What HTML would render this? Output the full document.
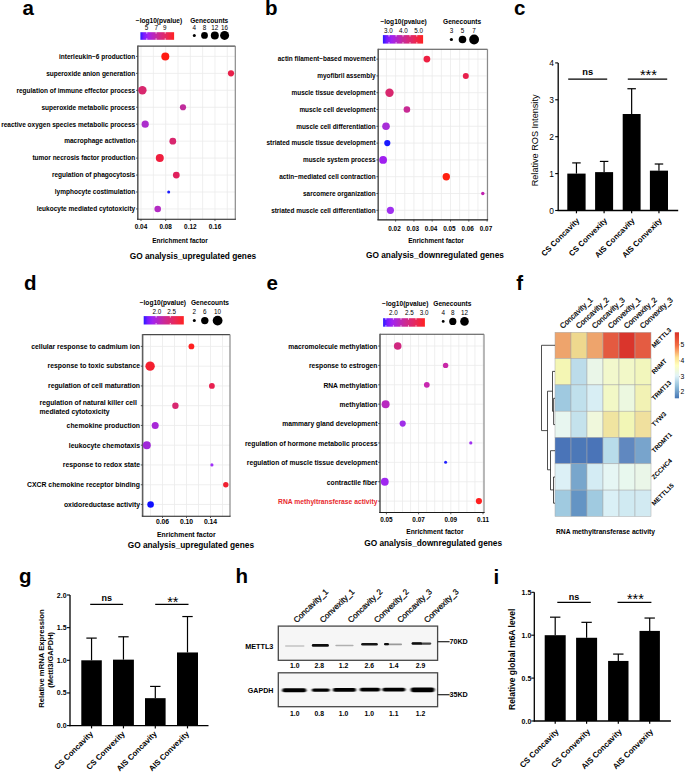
<!DOCTYPE html>
<html><head><meta charset="utf-8"><title>Figure</title>
<style>html,body{margin:0;padding:0;background:#fff;} svg{display:block;} text{font-family:'Liberation Sans',sans-serif;}</style>
</head><body>
<svg width="685" height="773" viewBox="0 0 685 773">
<rect width="685" height="773" fill="#fff"/>
<text x="22.50" y="15.00" font-size="20.5" font-weight="bold" text-anchor="start" fill="#000">a</text>
<text x="135.80" y="22.80" font-size="6.6" font-weight="bold" text-anchor="start" fill="#000">&#8722;log10(pvalue)</text>
<defs><linearGradient id="ga" x1="0" x2="1" y1="0" y2="0"><stop offset="0" stop-color="#2a1aff"/><stop offset="0.1" stop-color="#7a1cff"/><stop offset="0.22" stop-color="#a222f0"/><stop offset="0.5" stop-color="#c82a9a"/><stop offset="0.78" stop-color="#e8285a"/><stop offset="1" stop-color="#ff2222"/></linearGradient></defs>
<rect x="140.40" y="32.20" width="33.70" height="7.60" fill="url(#ga)"/>
<text x="146.40" y="29.90" font-size="6.3" text-anchor="middle" fill="#000">5</text>
<text x="156.20" y="29.90" font-size="6.3" text-anchor="middle" fill="#000">7</text>
<text x="164.80" y="29.90" font-size="6.3" text-anchor="middle" fill="#000">9</text>
<line x1="146.80" y1="32.20" x2="146.80" y2="33.60" stroke="#fff" stroke-width="0.8"/>
<line x1="146.80" y1="38.40" x2="146.80" y2="39.80" stroke="#fff" stroke-width="0.8"/>
<line x1="156.10" y1="32.20" x2="156.10" y2="33.60" stroke="#fff" stroke-width="0.8"/>
<line x1="156.10" y1="38.40" x2="156.10" y2="39.80" stroke="#fff" stroke-width="0.8"/>
<line x1="165.20" y1="32.20" x2="165.20" y2="33.60" stroke="#fff" stroke-width="0.8"/>
<line x1="165.20" y1="38.40" x2="165.20" y2="39.80" stroke="#fff" stroke-width="0.8"/>
<text x="190.20" y="22.80" font-size="6.6" font-weight="bold" text-anchor="start" fill="#000">Genecounts</text>
<text x="194.30" y="29.90" font-size="6.3" text-anchor="middle" fill="#000">4</text>
<circle cx="194.30" cy="35.40" r="1.50" fill="#000"/>
<text x="204.50" y="29.90" font-size="6.3" text-anchor="middle" fill="#000">8</text>
<circle cx="204.50" cy="35.40" r="3.40" fill="#000"/>
<text x="214.80" y="29.90" font-size="6.3" text-anchor="middle" fill="#000">12</text>
<circle cx="214.80" cy="35.40" r="4.00" fill="#000"/>
<text x="224.60" y="29.90" font-size="6.3" text-anchor="middle" fill="#000">16</text>
<circle cx="224.60" cy="35.40" r="4.50" fill="#000"/>
<rect x="137.80" y="46.10" width="97.50" height="173.10" fill="#fff"/>
<line x1="141.00" y1="46.10" x2="141.00" y2="219.20" stroke="#ebebeb" stroke-width="0.8"/>
<line x1="153.33" y1="46.10" x2="153.33" y2="219.20" stroke="#ebebeb" stroke-width="0.8"/>
<line x1="165.66" y1="46.10" x2="165.66" y2="219.20" stroke="#ebebeb" stroke-width="0.8"/>
<line x1="177.99" y1="46.10" x2="177.99" y2="219.20" stroke="#ebebeb" stroke-width="0.8"/>
<line x1="190.32" y1="46.10" x2="190.32" y2="219.20" stroke="#ebebeb" stroke-width="0.8"/>
<line x1="202.65" y1="46.10" x2="202.65" y2="219.20" stroke="#ebebeb" stroke-width="0.8"/>
<line x1="214.98" y1="46.10" x2="214.98" y2="219.20" stroke="#ebebeb" stroke-width="0.8"/>
<line x1="227.31" y1="46.10" x2="227.31" y2="219.20" stroke="#ebebeb" stroke-width="0.8"/>
<line x1="137.80" y1="56.40" x2="235.30" y2="56.40" stroke="#ebebeb" stroke-width="0.8"/>
<line x1="137.80" y1="73.35" x2="235.30" y2="73.35" stroke="#ebebeb" stroke-width="0.8"/>
<line x1="137.80" y1="90.30" x2="235.30" y2="90.30" stroke="#ebebeb" stroke-width="0.8"/>
<line x1="137.80" y1="107.25" x2="235.30" y2="107.25" stroke="#ebebeb" stroke-width="0.8"/>
<line x1="137.80" y1="124.20" x2="235.30" y2="124.20" stroke="#ebebeb" stroke-width="0.8"/>
<line x1="137.80" y1="141.15" x2="235.30" y2="141.15" stroke="#ebebeb" stroke-width="0.8"/>
<line x1="137.80" y1="158.10" x2="235.30" y2="158.10" stroke="#ebebeb" stroke-width="0.8"/>
<line x1="137.80" y1="175.05" x2="235.30" y2="175.05" stroke="#ebebeb" stroke-width="0.8"/>
<line x1="137.80" y1="192.00" x2="235.30" y2="192.00" stroke="#ebebeb" stroke-width="0.8"/>
<line x1="137.80" y1="208.95" x2="235.30" y2="208.95" stroke="#ebebeb" stroke-width="0.8"/>
<line x1="137.80" y1="46.10" x2="235.30" y2="46.10" stroke="#4a4a4a" stroke-width="1.1"/>
<line x1="235.30" y1="46.10" x2="235.30" y2="219.20" stroke="#8a8a8a" stroke-width="1.2"/>
<line x1="137.80" y1="45.60" x2="137.80" y2="219.20" stroke="#5e5e5e" stroke-width="1.6"/>
<line x1="137.00" y1="219.20" x2="235.90" y2="219.20" stroke="#1a1a1a" stroke-width="1.15"/>
<circle cx="165.30" cy="56.40" r="4.00" fill="#ff1a12"/>
<circle cx="231.00" cy="73.35" r="3.10" fill="#e8204a"/>
<circle cx="142.40" cy="90.30" r="4.20" fill="#d8286e"/>
<circle cx="183.00" cy="107.25" r="3.10" fill="#c02c9c"/>
<circle cx="145.20" cy="124.20" r="3.60" fill="#ac2ecc"/>
<circle cx="172.80" cy="141.15" r="3.40" fill="#d8266e"/>
<circle cx="159.80" cy="158.10" r="4.00" fill="#f01e3e"/>
<circle cx="176.30" cy="175.05" r="3.40" fill="#e0205c"/>
<circle cx="168.70" cy="192.00" r="1.50" fill="#1a1aff"/>
<circle cx="157.70" cy="208.95" r="3.30" fill="#b42cc4"/>
<line x1="136.00" y1="56.40" x2="137.80" y2="56.40" stroke="#333" stroke-width="0.8"/>
<text x="135.20" y="58.70" font-size="6.52" font-weight="bold" text-anchor="end" fill="#000">interleukin&#8722;6 production</text>
<line x1="136.00" y1="73.35" x2="137.80" y2="73.35" stroke="#333" stroke-width="0.8"/>
<text x="135.20" y="75.65" font-size="6.52" font-weight="bold" text-anchor="end" fill="#000">superoxide anion generation</text>
<line x1="136.00" y1="90.30" x2="137.80" y2="90.30" stroke="#333" stroke-width="0.8"/>
<text x="135.20" y="92.60" font-size="6.52" font-weight="bold" text-anchor="end" fill="#000">regulation of immune effector process</text>
<line x1="136.00" y1="107.25" x2="137.80" y2="107.25" stroke="#333" stroke-width="0.8"/>
<text x="135.20" y="109.55" font-size="6.52" font-weight="bold" text-anchor="end" fill="#000">superoxide metabolic process</text>
<line x1="136.00" y1="124.20" x2="137.80" y2="124.20" stroke="#333" stroke-width="0.8"/>
<text x="135.20" y="126.50" font-size="6.52" font-weight="bold" text-anchor="end" fill="#000">reactive oxygen species metabolic process</text>
<line x1="136.00" y1="141.15" x2="137.80" y2="141.15" stroke="#333" stroke-width="0.8"/>
<text x="135.20" y="143.45" font-size="6.52" font-weight="bold" text-anchor="end" fill="#000">macrophage activation</text>
<line x1="136.00" y1="158.10" x2="137.80" y2="158.10" stroke="#333" stroke-width="0.8"/>
<text x="135.20" y="160.40" font-size="6.52" font-weight="bold" text-anchor="end" fill="#000">tumor necrosis factor production</text>
<line x1="136.00" y1="175.05" x2="137.80" y2="175.05" stroke="#333" stroke-width="0.8"/>
<text x="135.20" y="177.35" font-size="6.52" font-weight="bold" text-anchor="end" fill="#000">regulation of phagocytosis</text>
<line x1="136.00" y1="192.00" x2="137.80" y2="192.00" stroke="#333" stroke-width="0.8"/>
<text x="135.20" y="194.30" font-size="6.52" font-weight="bold" text-anchor="end" fill="#000">lymphocyte costimulation</text>
<line x1="136.00" y1="208.95" x2="137.80" y2="208.95" stroke="#333" stroke-width="0.8"/>
<text x="135.20" y="211.25" font-size="6.52" font-weight="bold" text-anchor="end" fill="#000">leukocyte mediated cytotoxicity</text>
<line x1="141.00" y1="219.20" x2="141.00" y2="221.00" stroke="#333" stroke-width="0.8"/>
<text x="141.00" y="228.80" font-size="6.4" font-weight="bold" text-anchor="middle" fill="#000">0.04</text>
<line x1="165.66" y1="219.20" x2="165.66" y2="221.00" stroke="#333" stroke-width="0.8"/>
<text x="165.66" y="228.80" font-size="6.4" font-weight="bold" text-anchor="middle" fill="#000">0.08</text>
<line x1="190.32" y1="219.20" x2="190.32" y2="221.00" stroke="#333" stroke-width="0.8"/>
<text x="190.32" y="228.80" font-size="6.4" font-weight="bold" text-anchor="middle" fill="#000">0.12</text>
<line x1="214.98" y1="219.20" x2="214.98" y2="221.00" stroke="#333" stroke-width="0.8"/>
<text x="214.98" y="228.80" font-size="6.4" font-weight="bold" text-anchor="middle" fill="#000">0.16</text>
<text x="180.00" y="243.00" font-size="6.5" font-weight="bold" text-anchor="middle" fill="#000">Enrichment factor</text>
<text x="129.80" y="259.00" font-size="8.3" font-weight="bold" text-anchor="start" fill="#000">GO analysis_upregulated genes</text>
<text x="265.00" y="14.70" font-size="20.5" font-weight="bold" text-anchor="start" fill="#000">b</text>
<text x="380.40" y="23.70" font-size="6.6" font-weight="bold" text-anchor="start" fill="#000">&#8722;log10(pvalue)</text>
<defs><linearGradient id="gb" x1="0" x2="1" y1="0" y2="0"><stop offset="0" stop-color="#2a1aff"/><stop offset="0.1" stop-color="#7a1cff"/><stop offset="0.22" stop-color="#a222f0"/><stop offset="0.5" stop-color="#c82a9a"/><stop offset="0.78" stop-color="#e8285a"/><stop offset="1" stop-color="#ff2222"/></linearGradient></defs>
<rect x="382.90" y="35.10" width="40.20" height="8.50" fill="url(#gb)"/>
<text x="388.30" y="33.00" font-size="6.3" text-anchor="middle" fill="#000">3.0</text>
<text x="403.40" y="33.00" font-size="6.3" text-anchor="middle" fill="#000">4.0</text>
<text x="418.60" y="33.00" font-size="6.3" text-anchor="middle" fill="#000">5.0</text>
<line x1="389.00" y1="35.10" x2="389.00" y2="36.50" stroke="#fff" stroke-width="0.8"/>
<line x1="389.00" y1="42.20" x2="389.00" y2="43.60" stroke="#fff" stroke-width="0.8"/>
<line x1="396.10" y1="35.10" x2="396.10" y2="36.50" stroke="#fff" stroke-width="0.8"/>
<line x1="396.10" y1="42.20" x2="396.10" y2="43.60" stroke="#fff" stroke-width="0.8"/>
<line x1="403.00" y1="35.10" x2="403.00" y2="36.50" stroke="#fff" stroke-width="0.8"/>
<line x1="403.00" y1="42.20" x2="403.00" y2="43.60" stroke="#fff" stroke-width="0.8"/>
<line x1="410.00" y1="35.10" x2="410.00" y2="36.50" stroke="#fff" stroke-width="0.8"/>
<line x1="410.00" y1="42.20" x2="410.00" y2="43.60" stroke="#fff" stroke-width="0.8"/>
<line x1="416.80" y1="35.10" x2="416.80" y2="36.50" stroke="#fff" stroke-width="0.8"/>
<line x1="416.80" y1="42.20" x2="416.80" y2="43.60" stroke="#fff" stroke-width="0.8"/>
<text x="443.00" y="23.70" font-size="6.6" font-weight="bold" text-anchor="start" fill="#000">Genecounts</text>
<text x="451.40" y="33.00" font-size="6.3" text-anchor="middle" fill="#000">3</text>
<circle cx="451.40" cy="39.50" r="1.60" fill="#000"/>
<text x="462.50" y="33.00" font-size="6.3" text-anchor="middle" fill="#000">5</text>
<circle cx="462.50" cy="39.50" r="3.80" fill="#000"/>
<text x="474.10" y="33.00" font-size="6.3" text-anchor="middle" fill="#000">7</text>
<circle cx="474.10" cy="39.50" r="4.90" fill="#000"/>
<rect x="378.20" y="49.20" width="109.30" height="170.60" fill="#fff"/>
<line x1="386.45" y1="49.20" x2="386.45" y2="219.80" stroke="#ebebeb" stroke-width="0.8"/>
<line x1="395.60" y1="49.20" x2="395.60" y2="219.80" stroke="#ebebeb" stroke-width="0.8"/>
<line x1="404.75" y1="49.20" x2="404.75" y2="219.80" stroke="#ebebeb" stroke-width="0.8"/>
<line x1="413.90" y1="49.20" x2="413.90" y2="219.80" stroke="#ebebeb" stroke-width="0.8"/>
<line x1="423.05" y1="49.20" x2="423.05" y2="219.80" stroke="#ebebeb" stroke-width="0.8"/>
<line x1="432.20" y1="49.20" x2="432.20" y2="219.80" stroke="#ebebeb" stroke-width="0.8"/>
<line x1="441.35" y1="49.20" x2="441.35" y2="219.80" stroke="#ebebeb" stroke-width="0.8"/>
<line x1="450.50" y1="49.20" x2="450.50" y2="219.80" stroke="#ebebeb" stroke-width="0.8"/>
<line x1="459.65" y1="49.20" x2="459.65" y2="219.80" stroke="#ebebeb" stroke-width="0.8"/>
<line x1="468.80" y1="49.20" x2="468.80" y2="219.80" stroke="#ebebeb" stroke-width="0.8"/>
<line x1="477.95" y1="49.20" x2="477.95" y2="219.80" stroke="#ebebeb" stroke-width="0.8"/>
<line x1="487.10" y1="49.20" x2="487.10" y2="219.80" stroke="#ebebeb" stroke-width="0.8"/>
<line x1="378.20" y1="59.10" x2="487.50" y2="59.10" stroke="#ebebeb" stroke-width="0.8"/>
<line x1="378.20" y1="75.90" x2="487.50" y2="75.90" stroke="#ebebeb" stroke-width="0.8"/>
<line x1="378.20" y1="92.70" x2="487.50" y2="92.70" stroke="#ebebeb" stroke-width="0.8"/>
<line x1="378.20" y1="109.50" x2="487.50" y2="109.50" stroke="#ebebeb" stroke-width="0.8"/>
<line x1="378.20" y1="126.30" x2="487.50" y2="126.30" stroke="#ebebeb" stroke-width="0.8"/>
<line x1="378.20" y1="143.10" x2="487.50" y2="143.10" stroke="#ebebeb" stroke-width="0.8"/>
<line x1="378.20" y1="159.90" x2="487.50" y2="159.90" stroke="#ebebeb" stroke-width="0.8"/>
<line x1="378.20" y1="176.70" x2="487.50" y2="176.70" stroke="#ebebeb" stroke-width="0.8"/>
<line x1="378.20" y1="193.50" x2="487.50" y2="193.50" stroke="#ebebeb" stroke-width="0.8"/>
<line x1="378.20" y1="210.30" x2="487.50" y2="210.30" stroke="#ebebeb" stroke-width="0.8"/>
<line x1="378.20" y1="49.20" x2="487.50" y2="49.20" stroke="#4a4a4a" stroke-width="1.1"/>
<line x1="487.50" y1="49.20" x2="487.50" y2="219.80" stroke="#8a8a8a" stroke-width="1.2"/>
<line x1="378.20" y1="48.70" x2="378.20" y2="219.80" stroke="#5e5e5e" stroke-width="1.6"/>
<line x1="377.40" y1="219.80" x2="488.10" y2="219.80" stroke="#1a1a1a" stroke-width="1.15"/>
<circle cx="426.90" cy="59.10" r="3.40" fill="#ee2042"/>
<circle cx="465.80" cy="75.90" r="3.00" fill="#e8204c"/>
<circle cx="389.50" cy="92.70" r="4.20" fill="#d8286e"/>
<circle cx="406.90" cy="109.50" r="3.30" fill="#c82a94"/>
<circle cx="386.00" cy="126.30" r="3.80" fill="#a82ed8"/>
<circle cx="387.30" cy="143.10" r="3.10" fill="#1a1aff"/>
<circle cx="383.10" cy="159.90" r="3.90" fill="#a020f0"/>
<circle cx="446.30" cy="176.70" r="3.70" fill="#ff2010"/>
<circle cx="482.80" cy="193.50" r="1.70" fill="#c020b0"/>
<circle cx="390.40" cy="210.30" r="3.60" fill="#a030f0"/>
<line x1="376.40" y1="59.10" x2="378.20" y2="59.10" stroke="#333" stroke-width="0.8"/>
<text x="375.60" y="61.40" font-size="6.45" font-weight="bold" text-anchor="end" fill="#000">actin filament&#8722;based movement</text>
<line x1="376.40" y1="75.90" x2="378.20" y2="75.90" stroke="#333" stroke-width="0.8"/>
<text x="375.60" y="78.20" font-size="6.45" font-weight="bold" text-anchor="end" fill="#000">myofibril assembly</text>
<line x1="376.40" y1="92.70" x2="378.20" y2="92.70" stroke="#333" stroke-width="0.8"/>
<text x="375.60" y="95.00" font-size="6.45" font-weight="bold" text-anchor="end" fill="#000">muscle tissue development</text>
<line x1="376.40" y1="109.50" x2="378.20" y2="109.50" stroke="#333" stroke-width="0.8"/>
<text x="375.60" y="111.80" font-size="6.45" font-weight="bold" text-anchor="end" fill="#000">muscle cell development</text>
<line x1="376.40" y1="126.30" x2="378.20" y2="126.30" stroke="#333" stroke-width="0.8"/>
<text x="375.60" y="128.60" font-size="6.45" font-weight="bold" text-anchor="end" fill="#000">muscle cell differentiation</text>
<line x1="376.40" y1="143.10" x2="378.20" y2="143.10" stroke="#333" stroke-width="0.8"/>
<text x="375.60" y="145.40" font-size="6.45" font-weight="bold" text-anchor="end" fill="#000">striated muscle tissue development</text>
<line x1="376.40" y1="159.90" x2="378.20" y2="159.90" stroke="#333" stroke-width="0.8"/>
<text x="375.60" y="162.20" font-size="6.45" font-weight="bold" text-anchor="end" fill="#000">muscle system process</text>
<line x1="376.40" y1="176.70" x2="378.20" y2="176.70" stroke="#333" stroke-width="0.8"/>
<text x="375.60" y="179.00" font-size="6.45" font-weight="bold" text-anchor="end" fill="#000">actin&#8722;mediated cell contraction</text>
<line x1="376.40" y1="193.50" x2="378.20" y2="193.50" stroke="#333" stroke-width="0.8"/>
<text x="375.60" y="195.80" font-size="6.45" font-weight="bold" text-anchor="end" fill="#000">sarcomere organization</text>
<line x1="376.40" y1="210.30" x2="378.20" y2="210.30" stroke="#333" stroke-width="0.8"/>
<text x="375.60" y="212.60" font-size="6.45" font-weight="bold" text-anchor="end" fill="#000">striated muscle cell differentiation</text>
<line x1="395.60" y1="219.80" x2="395.60" y2="221.60" stroke="#333" stroke-width="0.8"/>
<text x="394.50" y="231.10" font-size="6.4" font-weight="bold" text-anchor="middle" fill="#000">0.02</text>
<line x1="413.90" y1="219.80" x2="413.90" y2="221.60" stroke="#333" stroke-width="0.8"/>
<text x="412.80" y="231.10" font-size="6.4" font-weight="bold" text-anchor="middle" fill="#000">0.03</text>
<line x1="432.20" y1="219.80" x2="432.20" y2="221.60" stroke="#333" stroke-width="0.8"/>
<text x="431.10" y="231.10" font-size="6.4" font-weight="bold" text-anchor="middle" fill="#000">0.04</text>
<line x1="450.50" y1="219.80" x2="450.50" y2="221.60" stroke="#333" stroke-width="0.8"/>
<text x="449.40" y="231.10" font-size="6.4" font-weight="bold" text-anchor="middle" fill="#000">0.05</text>
<line x1="468.80" y1="219.80" x2="468.80" y2="221.60" stroke="#333" stroke-width="0.8"/>
<text x="467.70" y="231.10" font-size="6.4" font-weight="bold" text-anchor="middle" fill="#000">0.06</text>
<line x1="487.10" y1="219.80" x2="487.10" y2="221.60" stroke="#333" stroke-width="0.8"/>
<text x="486.00" y="231.10" font-size="6.4" font-weight="bold" text-anchor="middle" fill="#000">0.07</text>
<text x="436.00" y="243.20" font-size="6.5" font-weight="bold" text-anchor="middle" fill="#000">Enrichment factor</text>
<text x="366.00" y="257.60" font-size="8.3" font-weight="bold" text-anchor="start" fill="#000">GO analysis_downregulated genes</text>
<text x="24.00" y="290.00" font-size="20.5" font-weight="bold" text-anchor="start" fill="#000">d</text>
<text x="139.70" y="305.00" font-size="6.6" font-weight="bold" text-anchor="start" fill="#000">&#8722;log10(pvalue)</text>
<defs><linearGradient id="gd" x1="0" x2="1" y1="0" y2="0"><stop offset="0" stop-color="#2a1aff"/><stop offset="0.1" stop-color="#7a1cff"/><stop offset="0.22" stop-color="#a222f0"/><stop offset="0.5" stop-color="#c82a9a"/><stop offset="0.78" stop-color="#e8285a"/><stop offset="1" stop-color="#ff2222"/></linearGradient></defs>
<rect x="143.70" y="316.10" width="40.10" height="8.40" fill="url(#gd)"/>
<text x="156.90" y="313.60" font-size="6.3" text-anchor="middle" fill="#000">2.0</text>
<text x="171.70" y="313.60" font-size="6.3" text-anchor="middle" fill="#000">2.5</text>
<line x1="156.10" y1="316.10" x2="156.10" y2="317.50" stroke="#fff" stroke-width="0.8"/>
<line x1="156.10" y1="323.10" x2="156.10" y2="324.50" stroke="#fff" stroke-width="0.8"/>
<line x1="170.30" y1="316.10" x2="170.30" y2="317.50" stroke="#fff" stroke-width="0.8"/>
<line x1="170.30" y1="323.10" x2="170.30" y2="324.50" stroke="#fff" stroke-width="0.8"/>
<text x="190.90" y="305.00" font-size="6.6" font-weight="bold" text-anchor="start" fill="#000">Genecounts</text>
<text x="194.30" y="313.60" font-size="6.3" text-anchor="middle" fill="#000">2</text>
<circle cx="194.30" cy="320.60" r="1.50" fill="#000"/>
<text x="204.80" y="313.60" font-size="6.3" text-anchor="middle" fill="#000">6</text>
<circle cx="204.80" cy="320.60" r="3.70" fill="#000"/>
<text x="217.60" y="313.60" font-size="6.3" text-anchor="middle" fill="#000">10</text>
<circle cx="217.60" cy="320.60" r="4.90" fill="#000"/>
<rect x="142.60" y="334.60" width="87.40" height="181.60" fill="#fff"/>
<line x1="150.50" y1="334.60" x2="150.50" y2="516.20" stroke="#ebebeb" stroke-width="0.8"/>
<line x1="162.50" y1="334.60" x2="162.50" y2="516.20" stroke="#ebebeb" stroke-width="0.8"/>
<line x1="174.50" y1="334.60" x2="174.50" y2="516.20" stroke="#ebebeb" stroke-width="0.8"/>
<line x1="186.50" y1="334.60" x2="186.50" y2="516.20" stroke="#ebebeb" stroke-width="0.8"/>
<line x1="198.50" y1="334.60" x2="198.50" y2="516.20" stroke="#ebebeb" stroke-width="0.8"/>
<line x1="210.50" y1="334.60" x2="210.50" y2="516.20" stroke="#ebebeb" stroke-width="0.8"/>
<line x1="222.50" y1="334.60" x2="222.50" y2="516.20" stroke="#ebebeb" stroke-width="0.8"/>
<line x1="142.60" y1="346.40" x2="230.00" y2="346.40" stroke="#ebebeb" stroke-width="0.8"/>
<line x1="142.60" y1="366.16" x2="230.00" y2="366.16" stroke="#ebebeb" stroke-width="0.8"/>
<line x1="142.60" y1="385.92" x2="230.00" y2="385.92" stroke="#ebebeb" stroke-width="0.8"/>
<line x1="142.60" y1="405.68" x2="230.00" y2="405.68" stroke="#ebebeb" stroke-width="0.8"/>
<line x1="142.60" y1="425.44" x2="230.00" y2="425.44" stroke="#ebebeb" stroke-width="0.8"/>
<line x1="142.60" y1="445.20" x2="230.00" y2="445.20" stroke="#ebebeb" stroke-width="0.8"/>
<line x1="142.60" y1="464.96" x2="230.00" y2="464.96" stroke="#ebebeb" stroke-width="0.8"/>
<line x1="142.60" y1="484.72" x2="230.00" y2="484.72" stroke="#ebebeb" stroke-width="0.8"/>
<line x1="142.60" y1="504.48" x2="230.00" y2="504.48" stroke="#ebebeb" stroke-width="0.8"/>
<line x1="142.60" y1="334.60" x2="230.00" y2="334.60" stroke="#4a4a4a" stroke-width="1.1"/>
<line x1="230.00" y1="334.60" x2="230.00" y2="516.20" stroke="#8a8a8a" stroke-width="1.2"/>
<line x1="142.60" y1="334.10" x2="142.60" y2="516.20" stroke="#5e5e5e" stroke-width="1.6"/>
<line x1="141.80" y1="516.20" x2="230.60" y2="516.20" stroke="#1a1a1a" stroke-width="1.15"/>
<circle cx="191.40" cy="346.40" r="2.90" fill="#ff2020"/>
<circle cx="150.10" cy="366.16" r="4.70" fill="#f42030"/>
<circle cx="211.90" cy="385.92" r="2.90" fill="#e82050"/>
<circle cx="175.40" cy="405.68" r="3.20" fill="#d82870"/>
<circle cx="155.20" cy="425.44" r="3.50" fill="#a828d8"/>
<circle cx="146.80" cy="445.20" r="4.00" fill="#a028d8"/>
<circle cx="211.90" cy="464.96" r="1.60" fill="#a030f8"/>
<circle cx="225.80" cy="484.72" r="2.70" fill="#f02030"/>
<circle cx="150.60" cy="504.48" r="3.30" fill="#1010ff"/>
<line x1="140.80" y1="346.40" x2="142.60" y2="346.40" stroke="#333" stroke-width="0.8"/>
<text x="140.00" y="348.70" font-size="6.85" font-weight="bold" text-anchor="end" fill="#000">cellular response to cadmium ion</text>
<line x1="140.80" y1="366.16" x2="142.60" y2="366.16" stroke="#333" stroke-width="0.8"/>
<text x="140.00" y="368.46" font-size="6.85" font-weight="bold" text-anchor="end" fill="#000">response to toxic substance</text>
<line x1="140.80" y1="385.92" x2="142.60" y2="385.92" stroke="#333" stroke-width="0.8"/>
<text x="140.00" y="388.22" font-size="6.85" font-weight="bold" text-anchor="end" fill="#000">regulation of cell maturation</text>
<line x1="140.80" y1="405.68" x2="142.60" y2="405.68" stroke="#333" stroke-width="0.8"/>
<text x="39.50" y="405.08" font-size="6.85" font-weight="bold" text-anchor="start" fill="#000">regulation of natural killer cell</text>
<text x="39.50" y="413.68" font-size="6.85" font-weight="bold" text-anchor="start" fill="#000">mediated cytotoxicity</text>
<line x1="140.80" y1="425.44" x2="142.60" y2="425.44" stroke="#333" stroke-width="0.8"/>
<text x="140.00" y="427.74" font-size="6.85" font-weight="bold" text-anchor="end" fill="#000">chemokine production</text>
<line x1="140.80" y1="445.20" x2="142.60" y2="445.20" stroke="#333" stroke-width="0.8"/>
<text x="140.00" y="447.50" font-size="6.85" font-weight="bold" text-anchor="end" fill="#000">leukocyte chemotaxis</text>
<line x1="140.80" y1="464.96" x2="142.60" y2="464.96" stroke="#333" stroke-width="0.8"/>
<text x="140.00" y="467.26" font-size="6.85" font-weight="bold" text-anchor="end" fill="#000">response to redox state</text>
<line x1="140.80" y1="484.72" x2="142.60" y2="484.72" stroke="#333" stroke-width="0.8"/>
<text x="140.00" y="487.02" font-size="6.85" font-weight="bold" text-anchor="end" fill="#000">CXCR chemokine receptor binding</text>
<line x1="140.80" y1="504.48" x2="142.60" y2="504.48" stroke="#333" stroke-width="0.8"/>
<text x="140.00" y="506.78" font-size="6.85" font-weight="bold" text-anchor="end" fill="#000">oxidoreductase activity</text>
<line x1="162.50" y1="516.20" x2="162.50" y2="518.00" stroke="#333" stroke-width="0.8"/>
<text x="162.50" y="524.00" font-size="6.8" font-weight="bold" text-anchor="middle" fill="#000">0.06</text>
<line x1="186.50" y1="516.20" x2="186.50" y2="518.00" stroke="#333" stroke-width="0.8"/>
<text x="186.50" y="524.00" font-size="6.8" font-weight="bold" text-anchor="middle" fill="#000">0.10</text>
<line x1="210.50" y1="516.20" x2="210.50" y2="518.00" stroke="#333" stroke-width="0.8"/>
<text x="210.50" y="524.00" font-size="6.8" font-weight="bold" text-anchor="middle" fill="#000">0.14</text>
<text x="186.30" y="536.80" font-size="6.85" font-weight="bold" text-anchor="middle" fill="#000">Enrichment factor</text>
<text x="127.70" y="547.60" font-size="8.3" font-weight="bold" text-anchor="start" fill="#000">GO analysis_upregulated genes</text>
<text x="266.60" y="289.80" font-size="20.5" font-weight="bold" text-anchor="start" fill="#000">e</text>
<text x="382.10" y="305.80" font-size="6.6" font-weight="bold" text-anchor="start" fill="#000">&#8722;log10(pvalue)</text>
<defs><linearGradient id="ge" x1="0" x2="1" y1="0" y2="0"><stop offset="0" stop-color="#2a1aff"/><stop offset="0.1" stop-color="#7a1cff"/><stop offset="0.22" stop-color="#a222f0"/><stop offset="0.5" stop-color="#c82a9a"/><stop offset="0.78" stop-color="#e8285a"/><stop offset="1" stop-color="#ff2222"/></linearGradient></defs>
<rect x="383.10" y="318.20" width="41.80" height="8.50" fill="url(#ge)"/>
<text x="393.50" y="314.90" font-size="6.3" text-anchor="middle" fill="#000">2.0</text>
<text x="409.50" y="314.90" font-size="6.3" text-anchor="middle" fill="#000">2.5</text>
<text x="424.10" y="314.90" font-size="6.3" text-anchor="middle" fill="#000">3.0</text>
<line x1="385.90" y1="318.20" x2="385.90" y2="319.60" stroke="#fff" stroke-width="0.8"/>
<line x1="385.90" y1="325.30" x2="385.90" y2="326.70" stroke="#fff" stroke-width="0.8"/>
<line x1="393.40" y1="318.20" x2="393.40" y2="319.60" stroke="#fff" stroke-width="0.8"/>
<line x1="393.40" y1="325.30" x2="393.40" y2="326.70" stroke="#fff" stroke-width="0.8"/>
<line x1="401.00" y1="318.20" x2="401.00" y2="319.60" stroke="#fff" stroke-width="0.8"/>
<line x1="401.00" y1="325.30" x2="401.00" y2="326.70" stroke="#fff" stroke-width="0.8"/>
<line x1="408.50" y1="318.20" x2="408.50" y2="319.60" stroke="#fff" stroke-width="0.8"/>
<line x1="408.50" y1="325.30" x2="408.50" y2="326.70" stroke="#fff" stroke-width="0.8"/>
<line x1="416.00" y1="318.20" x2="416.00" y2="319.60" stroke="#fff" stroke-width="0.8"/>
<line x1="416.00" y1="325.30" x2="416.00" y2="326.70" stroke="#fff" stroke-width="0.8"/>
<text x="433.30" y="305.80" font-size="6.6" font-weight="bold" text-anchor="start" fill="#000">Genecounts</text>
<text x="443.20" y="314.90" font-size="6.3" text-anchor="middle" fill="#000">4</text>
<circle cx="443.20" cy="321.40" r="1.40" fill="#000"/>
<text x="452.80" y="314.90" font-size="6.3" text-anchor="middle" fill="#000">8</text>
<circle cx="452.80" cy="321.40" r="3.60" fill="#000"/>
<text x="464.50" y="314.90" font-size="6.3" text-anchor="middle" fill="#000">12</text>
<circle cx="464.50" cy="321.40" r="4.30" fill="#000"/>
<rect x="380.00" y="334.20" width="104.00" height="178.30" fill="#fff"/>
<line x1="386.40" y1="334.20" x2="386.40" y2="512.50" stroke="#ebebeb" stroke-width="0.8"/>
<line x1="394.45" y1="334.20" x2="394.45" y2="512.50" stroke="#ebebeb" stroke-width="0.8"/>
<line x1="402.50" y1="334.20" x2="402.50" y2="512.50" stroke="#ebebeb" stroke-width="0.8"/>
<line x1="410.55" y1="334.20" x2="410.55" y2="512.50" stroke="#ebebeb" stroke-width="0.8"/>
<line x1="418.60" y1="334.20" x2="418.60" y2="512.50" stroke="#ebebeb" stroke-width="0.8"/>
<line x1="426.65" y1="334.20" x2="426.65" y2="512.50" stroke="#ebebeb" stroke-width="0.8"/>
<line x1="434.70" y1="334.20" x2="434.70" y2="512.50" stroke="#ebebeb" stroke-width="0.8"/>
<line x1="442.75" y1="334.20" x2="442.75" y2="512.50" stroke="#ebebeb" stroke-width="0.8"/>
<line x1="450.80" y1="334.20" x2="450.80" y2="512.50" stroke="#ebebeb" stroke-width="0.8"/>
<line x1="458.85" y1="334.20" x2="458.85" y2="512.50" stroke="#ebebeb" stroke-width="0.8"/>
<line x1="466.90" y1="334.20" x2="466.90" y2="512.50" stroke="#ebebeb" stroke-width="0.8"/>
<line x1="474.95" y1="334.20" x2="474.95" y2="512.50" stroke="#ebebeb" stroke-width="0.8"/>
<line x1="483.00" y1="334.20" x2="483.00" y2="512.50" stroke="#ebebeb" stroke-width="0.8"/>
<line x1="380.00" y1="346.00" x2="484.00" y2="346.00" stroke="#ebebeb" stroke-width="0.8"/>
<line x1="380.00" y1="365.39" x2="484.00" y2="365.39" stroke="#ebebeb" stroke-width="0.8"/>
<line x1="380.00" y1="384.78" x2="484.00" y2="384.78" stroke="#ebebeb" stroke-width="0.8"/>
<line x1="380.00" y1="404.17" x2="484.00" y2="404.17" stroke="#ebebeb" stroke-width="0.8"/>
<line x1="380.00" y1="423.56" x2="484.00" y2="423.56" stroke="#ebebeb" stroke-width="0.8"/>
<line x1="380.00" y1="442.95" x2="484.00" y2="442.95" stroke="#ebebeb" stroke-width="0.8"/>
<line x1="380.00" y1="462.34" x2="484.00" y2="462.34" stroke="#ebebeb" stroke-width="0.8"/>
<line x1="380.00" y1="481.73" x2="484.00" y2="481.73" stroke="#ebebeb" stroke-width="0.8"/>
<line x1="380.00" y1="501.12" x2="484.00" y2="501.12" stroke="#ebebeb" stroke-width="0.8"/>
<line x1="380.00" y1="334.20" x2="484.00" y2="334.20" stroke="#4a4a4a" stroke-width="1.1"/>
<line x1="484.00" y1="334.20" x2="484.00" y2="512.50" stroke="#8a8a8a" stroke-width="1.2"/>
<line x1="380.00" y1="333.70" x2="380.00" y2="512.50" stroke="#5e5e5e" stroke-width="1.6"/>
<line x1="379.20" y1="512.50" x2="484.60" y2="512.50" stroke="#1a1a1a" stroke-width="1.15"/>
<circle cx="397.70" cy="346.00" r="3.80" fill="#d02880"/>
<circle cx="445.60" cy="365.39" r="2.70" fill="#c828a8"/>
<circle cx="426.80" cy="384.78" r="2.90" fill="#c828b0"/>
<circle cx="385.60" cy="404.17" r="4.00" fill="#b828c0"/>
<circle cx="402.70" cy="423.56" r="3.10" fill="#a030e8"/>
<circle cx="470.80" cy="442.95" r="1.60" fill="#a030f0"/>
<circle cx="445.60" cy="462.34" r="1.50" fill="#2020ff"/>
<circle cx="384.80" cy="481.73" r="3.90" fill="#a028f0"/>
<circle cx="478.90" cy="501.12" r="3.10" fill="#ff2020"/>
<line x1="378.20" y1="346.00" x2="380.00" y2="346.00" stroke="#333" stroke-width="0.8"/>
<text x="377.40" y="348.90" font-size="6.74" font-weight="bold" text-anchor="end" fill="#000">macromolecule methylation</text>
<line x1="378.20" y1="365.39" x2="380.00" y2="365.39" stroke="#333" stroke-width="0.8"/>
<text x="377.40" y="368.29" font-size="6.74" font-weight="bold" text-anchor="end" fill="#000">response to estrogen</text>
<line x1="378.20" y1="384.78" x2="380.00" y2="384.78" stroke="#333" stroke-width="0.8"/>
<text x="377.40" y="387.68" font-size="6.74" font-weight="bold" text-anchor="end" fill="#000">RNA methylation</text>
<line x1="378.20" y1="404.17" x2="380.00" y2="404.17" stroke="#333" stroke-width="0.8"/>
<text x="377.40" y="407.07" font-size="6.74" font-weight="bold" text-anchor="end" fill="#000">methylation</text>
<line x1="378.20" y1="423.56" x2="380.00" y2="423.56" stroke="#333" stroke-width="0.8"/>
<text x="377.40" y="426.46" font-size="6.74" font-weight="bold" text-anchor="end" fill="#000">mammary gland development</text>
<line x1="378.20" y1="442.95" x2="380.00" y2="442.95" stroke="#333" stroke-width="0.8"/>
<text x="377.40" y="445.85" font-size="6.74" font-weight="bold" text-anchor="end" fill="#000">regulation of hormone metabolic process</text>
<line x1="378.20" y1="462.34" x2="380.00" y2="462.34" stroke="#333" stroke-width="0.8"/>
<text x="377.40" y="465.24" font-size="6.74" font-weight="bold" text-anchor="end" fill="#000">regulation of muscle tissue development</text>
<line x1="378.20" y1="481.73" x2="380.00" y2="481.73" stroke="#333" stroke-width="0.8"/>
<text x="377.40" y="484.63" font-size="6.74" font-weight="bold" text-anchor="end" fill="#000">contractile fiber</text>
<line x1="378.20" y1="501.12" x2="380.00" y2="501.12" stroke="#333" stroke-width="0.8"/>
<text x="377.40" y="504.02" font-size="6.74" font-weight="bold" text-anchor="end" fill="#e8282c">RNA methyltransferase activity</text>
<line x1="386.40" y1="512.50" x2="386.40" y2="514.30" stroke="#333" stroke-width="0.8"/>
<text x="386.40" y="522.10" font-size="6.4" font-weight="bold" text-anchor="middle" fill="#000">0.05</text>
<line x1="418.60" y1="512.50" x2="418.60" y2="514.30" stroke="#333" stroke-width="0.8"/>
<text x="418.60" y="522.10" font-size="6.4" font-weight="bold" text-anchor="middle" fill="#000">0.07</text>
<line x1="450.80" y1="512.50" x2="450.80" y2="514.30" stroke="#333" stroke-width="0.8"/>
<text x="450.80" y="522.10" font-size="6.4" font-weight="bold" text-anchor="middle" fill="#000">0.09</text>
<line x1="483.00" y1="512.50" x2="483.00" y2="514.30" stroke="#333" stroke-width="0.8"/>
<text x="483.00" y="522.10" font-size="6.4" font-weight="bold" text-anchor="middle" fill="#000">0.11</text>
<text x="434.90" y="533.60" font-size="6.7" font-weight="bold" text-anchor="middle" fill="#000">Enrichment factor</text>
<text x="364.20" y="546.20" font-size="8.3" font-weight="bold" text-anchor="start" fill="#000">GO analysis_downregulated genes</text>
<text x="514.00" y="15.00" font-size="20.5" font-weight="bold" text-anchor="start" fill="#000">c</text>
<line x1="576.45" y1="162.90" x2="576.45" y2="173.60" stroke="#000" stroke-width="1.2"/>
<line x1="572.20" y1="162.90" x2="580.70" y2="162.90" stroke="#000" stroke-width="1.2"/>
<rect x="567.30" y="173.60" width="18.30" height="36.90" fill="#000"/>
<line x1="576.45" y1="210.50" x2="576.45" y2="213.30" stroke="#000" stroke-width="1.2"/>
<text x="579.95" y="221.10" font-size="7.8" font-weight="bold" text-anchor="end" fill="#000" transform="rotate(-45 579.95 221.10)">CS Concavity</text>
<line x1="604.10" y1="161.42" x2="604.10" y2="172.12" stroke="#000" stroke-width="1.2"/>
<line x1="599.85" y1="161.42" x2="608.35" y2="161.42" stroke="#000" stroke-width="1.2"/>
<rect x="595.10" y="172.12" width="18.00" height="38.38" fill="#000"/>
<line x1="604.10" y1="210.50" x2="604.10" y2="213.30" stroke="#000" stroke-width="1.2"/>
<text x="607.60" y="221.10" font-size="7.8" font-weight="bold" text-anchor="end" fill="#000" transform="rotate(-45 607.60 221.10)">CS Convexity</text>
<line x1="631.65" y1="88.73" x2="631.65" y2="114.01" stroke="#000" stroke-width="1.2"/>
<line x1="627.40" y1="88.73" x2="635.90" y2="88.73" stroke="#000" stroke-width="1.2"/>
<rect x="622.70" y="114.01" width="17.90" height="96.49" fill="#000"/>
<line x1="631.65" y1="210.50" x2="631.65" y2="213.30" stroke="#000" stroke-width="1.2"/>
<text x="635.15" y="221.10" font-size="7.8" font-weight="bold" text-anchor="end" fill="#000" transform="rotate(-45 635.15 221.10)">AIS Concavity</text>
<line x1="658.95" y1="164.01" x2="658.95" y2="170.65" stroke="#000" stroke-width="1.2"/>
<line x1="654.70" y1="164.01" x2="663.20" y2="164.01" stroke="#000" stroke-width="1.2"/>
<rect x="649.90" y="170.65" width="18.10" height="39.85" fill="#000"/>
<line x1="658.95" y1="210.50" x2="658.95" y2="213.30" stroke="#000" stroke-width="1.2"/>
<text x="662.45" y="221.10" font-size="7.8" font-weight="bold" text-anchor="end" fill="#000" transform="rotate(-45 662.45 221.10)">AIS Convexity</text>
<line x1="558.20" y1="62.90" x2="558.20" y2="211.10" stroke="#000" stroke-width="1.3"/>
<line x1="557.60" y1="210.50" x2="678.20" y2="210.50" stroke="#000" stroke-width="1.3"/>
<line x1="555.20" y1="210.50" x2="558.20" y2="210.50" stroke="#000" stroke-width="1.1"/>
<text x="553.90" y="213.50" font-size="8.4" text-anchor="end" fill="#000">0</text>
<line x1="555.20" y1="173.60" x2="558.20" y2="173.60" stroke="#000" stroke-width="1.1"/>
<text x="553.90" y="176.60" font-size="8.4" text-anchor="end" fill="#000">1</text>
<line x1="555.20" y1="136.70" x2="558.20" y2="136.70" stroke="#000" stroke-width="1.1"/>
<text x="553.90" y="139.70" font-size="8.4" text-anchor="end" fill="#000">2</text>
<line x1="555.20" y1="99.80" x2="558.20" y2="99.80" stroke="#000" stroke-width="1.1"/>
<text x="553.90" y="102.80" font-size="8.4" text-anchor="end" fill="#000">3</text>
<line x1="555.20" y1="62.90" x2="558.20" y2="62.90" stroke="#000" stroke-width="1.1"/>
<text x="553.90" y="65.90" font-size="8.4" text-anchor="end" fill="#000">4</text>
<line x1="568.20" y1="79.20" x2="607.20" y2="79.20" stroke="#000" stroke-width="1.3"/>
<text x="587.70" y="74.80" font-size="9.3" font-weight="bold" text-anchor="middle" fill="#000">ns</text>
<line x1="627.80" y1="79.20" x2="667.20" y2="79.20" stroke="#000" stroke-width="1.3"/>
<text x="648.40" y="80.20" font-size="14.6" text-anchor="middle" fill="#000">***</text>
<text x="538.30" y="140.40" font-size="9.15" text-anchor="middle" fill="#000" transform="rotate(-90 538.30 140.40)">Relative ROS Intensity</text>
<text x="19.00" y="583.00" font-size="20.5" font-weight="bold" text-anchor="start" fill="#000">g</text>
<line x1="91.55" y1="638.10" x2="91.55" y2="660.30" stroke="#000" stroke-width="1.2"/>
<line x1="86.35" y1="638.10" x2="96.75" y2="638.10" stroke="#000" stroke-width="1.2"/>
<rect x="81.30" y="660.30" width="20.50" height="65.30" fill="#000"/>
<line x1="91.55" y1="725.60" x2="91.55" y2="728.40" stroke="#000" stroke-width="1.2"/>
<text x="93.55" y="734.30" font-size="7.9" font-weight="bold" text-anchor="end" fill="#000" transform="rotate(-45 93.55 734.30)">CS Concavity</text>
<line x1="123.45" y1="636.79" x2="123.45" y2="659.65" stroke="#000" stroke-width="1.2"/>
<line x1="118.25" y1="636.79" x2="128.65" y2="636.79" stroke="#000" stroke-width="1.2"/>
<rect x="113.00" y="659.65" width="20.90" height="65.95" fill="#000"/>
<line x1="123.45" y1="725.60" x2="123.45" y2="728.40" stroke="#000" stroke-width="1.2"/>
<text x="125.45" y="734.30" font-size="7.9" font-weight="bold" text-anchor="end" fill="#000" transform="rotate(-45 125.45 734.30)">CS Convexity</text>
<line x1="155.30" y1="686.42" x2="155.30" y2="698.17" stroke="#000" stroke-width="1.2"/>
<line x1="150.10" y1="686.42" x2="160.50" y2="686.42" stroke="#000" stroke-width="1.2"/>
<rect x="145.00" y="698.17" width="20.60" height="27.43" fill="#000"/>
<line x1="155.30" y1="725.60" x2="155.30" y2="728.40" stroke="#000" stroke-width="1.2"/>
<text x="157.30" y="734.30" font-size="7.9" font-weight="bold" text-anchor="end" fill="#000" transform="rotate(-45 157.30 734.30)">AIS Concavity</text>
<line x1="187.50" y1="616.55" x2="187.50" y2="652.46" stroke="#000" stroke-width="1.2"/>
<line x1="182.30" y1="616.55" x2="192.70" y2="616.55" stroke="#000" stroke-width="1.2"/>
<rect x="177.00" y="652.46" width="21.00" height="73.14" fill="#000"/>
<line x1="187.50" y1="725.60" x2="187.50" y2="728.40" stroke="#000" stroke-width="1.2"/>
<text x="189.50" y="734.30" font-size="7.9" font-weight="bold" text-anchor="end" fill="#000" transform="rotate(-45 189.50 734.30)">AIS Convexity</text>
<line x1="70.00" y1="595.00" x2="70.00" y2="726.20" stroke="#000" stroke-width="1.3"/>
<line x1="69.40" y1="725.60" x2="208.50" y2="725.60" stroke="#000" stroke-width="1.3"/>
<line x1="67.00" y1="725.60" x2="70.00" y2="725.60" stroke="#000" stroke-width="1.1"/>
<text x="66.60" y="728.10" font-size="7.0" font-weight="bold" text-anchor="end" fill="#000">0.0</text>
<line x1="67.00" y1="692.95" x2="70.00" y2="692.95" stroke="#000" stroke-width="1.1"/>
<text x="66.60" y="695.45" font-size="7.0" font-weight="bold" text-anchor="end" fill="#000">0.5</text>
<line x1="67.00" y1="660.30" x2="70.00" y2="660.30" stroke="#000" stroke-width="1.1"/>
<text x="66.60" y="662.80" font-size="7.0" font-weight="bold" text-anchor="end" fill="#000">1.0</text>
<line x1="67.00" y1="627.65" x2="70.00" y2="627.65" stroke="#000" stroke-width="1.1"/>
<text x="66.60" y="630.15" font-size="7.0" font-weight="bold" text-anchor="end" fill="#000">1.5</text>
<line x1="67.00" y1="595.00" x2="70.00" y2="595.00" stroke="#000" stroke-width="1.1"/>
<text x="66.60" y="597.50" font-size="7.0" font-weight="bold" text-anchor="end" fill="#000">2.0</text>
<line x1="90.20" y1="604.30" x2="123.10" y2="604.30" stroke="#000" stroke-width="1.3"/>
<text x="106.65" y="601.30" font-size="9.0" font-weight="bold" text-anchor="middle" fill="#000">ns</text>
<line x1="155.20" y1="604.30" x2="188.50" y2="604.30" stroke="#000" stroke-width="1.3"/>
<text x="172.75" y="607.00" font-size="14.4" text-anchor="middle" fill="#000">**</text>
<text x="43.60" y="658.60" font-size="7.7" font-weight="bold" text-anchor="middle" fill="#000" transform="rotate(-90 43.60 658.60)">Relative mRNA Expression</text>
<text x="52.70" y="659.80" font-size="7.5" font-weight="bold" text-anchor="middle" fill="#000" transform="rotate(-90 52.70 659.80)">(Mettl3/GAPDH)</text>
<text x="493.50" y="584.00" font-size="20.5" font-weight="bold" text-anchor="start" fill="#000">i</text>
<line x1="555.20" y1="617.18" x2="555.20" y2="635.20" stroke="#000" stroke-width="1.2"/>
<line x1="550.00" y1="617.18" x2="560.40" y2="617.18" stroke="#000" stroke-width="1.2"/>
<rect x="544.70" y="635.20" width="21.00" height="85.80" fill="#000"/>
<line x1="555.20" y1="721.00" x2="555.20" y2="723.80" stroke="#000" stroke-width="1.2"/>
<text x="559.20" y="732.00" font-size="7.95" font-weight="bold" text-anchor="end" fill="#000" transform="rotate(-45 559.20 732.00)">CS Concavity</text>
<line x1="586.60" y1="622.33" x2="586.60" y2="637.77" stroke="#000" stroke-width="1.2"/>
<line x1="581.40" y1="622.33" x2="591.80" y2="622.33" stroke="#000" stroke-width="1.2"/>
<rect x="576.10" y="637.77" width="21.00" height="83.23" fill="#000"/>
<line x1="586.60" y1="721.00" x2="586.60" y2="723.80" stroke="#000" stroke-width="1.2"/>
<text x="590.60" y="732.00" font-size="7.95" font-weight="bold" text-anchor="end" fill="#000" transform="rotate(-45 590.60 732.00)">CS Convexity</text>
<line x1="618.30" y1="654.08" x2="618.30" y2="660.94" stroke="#000" stroke-width="1.2"/>
<line x1="613.10" y1="654.08" x2="623.50" y2="654.08" stroke="#000" stroke-width="1.2"/>
<rect x="608.10" y="660.94" width="20.40" height="60.06" fill="#000"/>
<line x1="618.30" y1="721.00" x2="618.30" y2="723.80" stroke="#000" stroke-width="1.2"/>
<text x="622.30" y="732.00" font-size="7.95" font-weight="bold" text-anchor="end" fill="#000" transform="rotate(-45 622.30 732.00)">AIS Concavity</text>
<line x1="649.70" y1="618.04" x2="649.70" y2="630.91" stroke="#000" stroke-width="1.2"/>
<line x1="644.50" y1="618.04" x2="654.90" y2="618.04" stroke="#000" stroke-width="1.2"/>
<rect x="639.50" y="630.91" width="20.40" height="90.09" fill="#000"/>
<line x1="649.70" y1="721.00" x2="649.70" y2="723.80" stroke="#000" stroke-width="1.2"/>
<text x="653.70" y="732.00" font-size="7.95" font-weight="bold" text-anchor="end" fill="#000" transform="rotate(-45 653.70 732.00)">AIS Convexity</text>
<line x1="534.30" y1="592.30" x2="534.30" y2="721.60" stroke="#000" stroke-width="1.3"/>
<line x1="533.70" y1="721.00" x2="670.90" y2="721.00" stroke="#000" stroke-width="1.3"/>
<line x1="531.30" y1="721.00" x2="534.30" y2="721.00" stroke="#000" stroke-width="1.1"/>
<text x="531.30" y="723.50" font-size="7.0" font-weight="bold" text-anchor="end" fill="#000">0.0</text>
<line x1="531.30" y1="678.10" x2="534.30" y2="678.10" stroke="#000" stroke-width="1.1"/>
<text x="531.30" y="680.60" font-size="7.0" font-weight="bold" text-anchor="end" fill="#000">0.5</text>
<line x1="531.30" y1="635.20" x2="534.30" y2="635.20" stroke="#000" stroke-width="1.1"/>
<text x="531.30" y="637.70" font-size="7.0" font-weight="bold" text-anchor="end" fill="#000">1.0</text>
<line x1="531.30" y1="592.30" x2="534.30" y2="592.30" stroke="#000" stroke-width="1.1"/>
<text x="531.30" y="594.80" font-size="7.0" font-weight="bold" text-anchor="end" fill="#000">1.5</text>
<line x1="557.30" y1="602.30" x2="590.80" y2="602.30" stroke="#000" stroke-width="1.3"/>
<text x="574.05" y="600.20" font-size="9.0" font-weight="bold" text-anchor="middle" fill="#000">ns</text>
<line x1="617.50" y1="602.30" x2="651.40" y2="602.30" stroke="#000" stroke-width="1.3"/>
<text x="635.35" y="604.30" font-size="14.4" text-anchor="middle" fill="#000">***</text>
<text x="515.00" y="659.30" font-size="8.47" font-weight="bold" text-anchor="middle" fill="#000" transform="rotate(-90 515.00 659.30)">Relative global m6A level</text>
<text x="516.30" y="290.00" font-size="20.5" font-weight="bold" text-anchor="start" fill="#000">f</text>
<rect x="555.00" y="332.30" width="16.00" height="26.30" fill="#eea46c" stroke="#a8a8a8" stroke-width="0.5"/>
<rect x="571.00" y="332.30" width="16.00" height="26.30" fill="#eed88e" stroke="#a8a8a8" stroke-width="0.5"/>
<rect x="587.00" y="332.30" width="16.00" height="26.30" fill="#eea46c" stroke="#a8a8a8" stroke-width="0.5"/>
<rect x="603.00" y="332.30" width="16.00" height="26.30" fill="#e45a40" stroke="#a8a8a8" stroke-width="0.5"/>
<rect x="619.00" y="332.30" width="16.00" height="26.30" fill="#da352c" stroke="#a8a8a8" stroke-width="0.5"/>
<rect x="635.00" y="332.30" width="16.00" height="26.30" fill="#e45c42" stroke="#a8a8a8" stroke-width="0.5"/>
<rect x="555.00" y="358.60" width="16.00" height="26.30" fill="#f4f6b4" stroke="#a8a8a8" stroke-width="0.5"/>
<rect x="571.00" y="358.60" width="16.00" height="26.30" fill="#bcdcea" stroke="#a8a8a8" stroke-width="0.5"/>
<rect x="587.00" y="358.60" width="16.00" height="26.30" fill="#eaf6e8" stroke="#a8a8a8" stroke-width="0.5"/>
<rect x="603.00" y="358.60" width="16.00" height="26.30" fill="#f2f8cc" stroke="#a8a8a8" stroke-width="0.5"/>
<rect x="619.00" y="358.60" width="16.00" height="26.30" fill="#f2f8c8" stroke="#a8a8a8" stroke-width="0.5"/>
<rect x="635.00" y="358.60" width="16.00" height="26.30" fill="#f2f6bc" stroke="#a8a8a8" stroke-width="0.5"/>
<rect x="555.00" y="384.90" width="16.00" height="26.30" fill="#9fc9e0" stroke="#a8a8a8" stroke-width="0.5"/>
<rect x="571.00" y="384.90" width="16.00" height="26.30" fill="#c0e0ec" stroke="#a8a8a8" stroke-width="0.5"/>
<rect x="587.00" y="384.90" width="16.00" height="26.30" fill="#d8eef4" stroke="#a8a8a8" stroke-width="0.5"/>
<rect x="603.00" y="384.90" width="16.00" height="26.30" fill="#f2f8c6" stroke="#a8a8a8" stroke-width="0.5"/>
<rect x="619.00" y="384.90" width="16.00" height="26.30" fill="#ecf8e0" stroke="#a8a8a8" stroke-width="0.5"/>
<rect x="635.00" y="384.90" width="16.00" height="26.30" fill="#f2f2b4" stroke="#a8a8a8" stroke-width="0.5"/>
<rect x="555.00" y="411.20" width="16.00" height="26.30" fill="#e8f6f0" stroke="#a8a8a8" stroke-width="0.5"/>
<rect x="571.00" y="411.20" width="16.00" height="26.30" fill="#c4e2ec" stroke="#a8a8a8" stroke-width="0.5"/>
<rect x="587.00" y="411.20" width="16.00" height="26.30" fill="#f0f8dc" stroke="#a8a8a8" stroke-width="0.5"/>
<rect x="603.00" y="411.20" width="16.00" height="26.30" fill="#f0e4a0" stroke="#a8a8a8" stroke-width="0.5"/>
<rect x="619.00" y="411.20" width="16.00" height="26.30" fill="#f2f6b6" stroke="#a8a8a8" stroke-width="0.5"/>
<rect x="635.00" y="411.20" width="16.00" height="26.30" fill="#f0e09e" stroke="#a8a8a8" stroke-width="0.5"/>
<rect x="555.00" y="437.50" width="16.00" height="26.30" fill="#4a74b8" stroke="#a8a8a8" stroke-width="0.5"/>
<rect x="571.00" y="437.50" width="16.00" height="26.30" fill="#4c78b8" stroke="#a8a8a8" stroke-width="0.5"/>
<rect x="587.00" y="437.50" width="16.00" height="26.30" fill="#4a74b8" stroke="#a8a8a8" stroke-width="0.5"/>
<rect x="603.00" y="437.50" width="16.00" height="26.30" fill="#b8dcea" stroke="#a8a8a8" stroke-width="0.5"/>
<rect x="619.00" y="437.50" width="16.00" height="26.30" fill="#6088c0" stroke="#a8a8a8" stroke-width="0.5"/>
<rect x="635.00" y="437.50" width="16.00" height="26.30" fill="#78a4cc" stroke="#a8a8a8" stroke-width="0.5"/>
<rect x="555.00" y="463.80" width="16.00" height="26.30" fill="#dcf0f6" stroke="#a8a8a8" stroke-width="0.5"/>
<rect x="571.00" y="463.80" width="16.00" height="26.30" fill="#78a6cc" stroke="#a8a8a8" stroke-width="0.5"/>
<rect x="587.00" y="463.80" width="16.00" height="26.30" fill="#d4ecf4" stroke="#a8a8a8" stroke-width="0.5"/>
<rect x="603.00" y="463.80" width="16.00" height="26.30" fill="#e6f6f4" stroke="#a8a8a8" stroke-width="0.5"/>
<rect x="619.00" y="463.80" width="16.00" height="26.30" fill="#e8f8ee" stroke="#a8a8a8" stroke-width="0.5"/>
<rect x="635.00" y="463.80" width="16.00" height="26.30" fill="#eaf6e8" stroke="#a8a8a8" stroke-width="0.5"/>
<rect x="555.00" y="490.10" width="16.00" height="26.30" fill="#a0cae0" stroke="#a8a8a8" stroke-width="0.5"/>
<rect x="571.00" y="490.10" width="16.00" height="26.30" fill="#6494c4" stroke="#a8a8a8" stroke-width="0.5"/>
<rect x="587.00" y="490.10" width="16.00" height="26.30" fill="#a0cae0" stroke="#a8a8a8" stroke-width="0.5"/>
<rect x="603.00" y="490.10" width="16.00" height="26.30" fill="#daf0f6" stroke="#a8a8a8" stroke-width="0.5"/>
<rect x="619.00" y="490.10" width="16.00" height="26.30" fill="#d0eaf2" stroke="#a8a8a8" stroke-width="0.5"/>
<rect x="635.00" y="490.10" width="16.00" height="26.30" fill="#d2eaf2" stroke="#a8a8a8" stroke-width="0.5"/>
<text x="562.80" y="329.00" font-size="7.6" text-anchor="start" fill="#000" transform="rotate(-43 562.80 329.00)" stroke="#000" stroke-width="0.22">Concavity_1</text>
<text x="578.80" y="329.00" font-size="7.6" text-anchor="start" fill="#000" transform="rotate(-43 578.80 329.00)" stroke="#000" stroke-width="0.22">Concavity_2</text>
<text x="594.80" y="329.00" font-size="7.6" text-anchor="start" fill="#000" transform="rotate(-43 594.80 329.00)" stroke="#000" stroke-width="0.22">Concavity_3</text>
<text x="610.80" y="329.00" font-size="7.6" text-anchor="start" fill="#000" transform="rotate(-43 610.80 329.00)" stroke="#000" stroke-width="0.22">Convexity_1</text>
<text x="626.80" y="329.00" font-size="7.6" text-anchor="start" fill="#000" transform="rotate(-43 626.80 329.00)" stroke="#000" stroke-width="0.22">Convexity_2</text>
<text x="642.80" y="329.00" font-size="7.6" text-anchor="start" fill="#000" transform="rotate(-43 642.80 329.00)" stroke="#000" stroke-width="0.22">Convexity_3</text>
<text x="654.20" y="348.15" font-size="6.4" font-weight="bold" text-anchor="start" fill="#000" transform="rotate(-45 654.20 348.15)">METTL3</text>
<text x="654.20" y="374.45" font-size="6.4" font-weight="bold" text-anchor="start" fill="#000" transform="rotate(-45 654.20 374.45)">RNMT</text>
<text x="654.20" y="400.75" font-size="6.4" font-weight="bold" text-anchor="start" fill="#000" transform="rotate(-45 654.20 400.75)">TRMT13</text>
<text x="654.20" y="427.05" font-size="6.4" font-weight="bold" text-anchor="start" fill="#000" transform="rotate(-45 654.20 427.05)">TYW3</text>
<text x="654.20" y="453.35" font-size="6.4" font-weight="bold" text-anchor="start" fill="#000" transform="rotate(-45 654.20 453.35)">TRDMT1</text>
<text x="654.20" y="479.65" font-size="6.4" font-weight="bold" text-anchor="start" fill="#000" transform="rotate(-45 654.20 479.65)">ZCCHC4</text>
<text x="654.20" y="505.95" font-size="6.4" font-weight="bold" text-anchor="start" fill="#000" transform="rotate(-45 654.20 505.95)">METTL15</text>
<defs><linearGradient id="hm" x1="0" x2="0" y1="0" y2="1"><stop offset="0" stop-color="#d73027"/><stop offset="0.2" stop-color="#f46d43"/><stop offset="0.38" stop-color="#fee090"/><stop offset="0.5" stop-color="#ffffbf"/><stop offset="0.66" stop-color="#e0f3f8"/><stop offset="0.82" stop-color="#91bfdb"/><stop offset="1" stop-color="#4575b4"/></linearGradient></defs>
<rect x="674.80" y="332.30" width="4.20" height="66.00" fill="url(#hm)"/>
<line x1="679.00" y1="344.80" x2="680.00" y2="344.80" stroke="#666" stroke-width="0.5"/>
<text x="680.40" y="347.20" font-size="6.8" text-anchor="start" fill="#000">5</text>
<line x1="679.00" y1="360.80" x2="680.00" y2="360.80" stroke="#666" stroke-width="0.5"/>
<text x="680.40" y="363.20" font-size="6.8" text-anchor="start" fill="#000">4</text>
<line x1="679.00" y1="376.70" x2="680.00" y2="376.70" stroke="#666" stroke-width="0.5"/>
<text x="680.40" y="379.10" font-size="6.8" text-anchor="start" fill="#000">3</text>
<line x1="679.00" y1="391.80" x2="680.00" y2="391.80" stroke="#666" stroke-width="0.5"/>
<text x="680.40" y="394.20" font-size="6.8" text-anchor="start" fill="#000">2</text>
<line x1="541.50" y1="345.30" x2="555.00" y2="345.30" stroke="#222" stroke-width="0.8"/>
<line x1="541.50" y1="345.30" x2="541.50" y2="430.60" stroke="#222" stroke-width="0.8"/>
<line x1="541.50" y1="430.60" x2="547.50" y2="430.60" stroke="#222" stroke-width="0.8"/>
<line x1="547.50" y1="391.20" x2="547.50" y2="469.80" stroke="#222" stroke-width="0.8"/>
<line x1="547.50" y1="391.20" x2="552.50" y2="391.20" stroke="#222" stroke-width="0.8"/>
<line x1="552.50" y1="371.40" x2="552.50" y2="411.30" stroke="#222" stroke-width="0.8"/>
<line x1="552.50" y1="371.40" x2="555.00" y2="371.40" stroke="#222" stroke-width="0.8"/>
<line x1="552.50" y1="411.30" x2="553.60" y2="411.30" stroke="#222" stroke-width="0.8"/>
<line x1="553.60" y1="398.30" x2="553.60" y2="424.60" stroke="#222" stroke-width="0.8"/>
<line x1="553.60" y1="398.30" x2="555.00" y2="398.30" stroke="#222" stroke-width="0.8"/>
<line x1="553.60" y1="424.60" x2="555.00" y2="424.60" stroke="#222" stroke-width="0.8"/>
<line x1="547.50" y1="469.80" x2="550.50" y2="469.80" stroke="#222" stroke-width="0.8"/>
<line x1="550.50" y1="450.70" x2="550.50" y2="489.90" stroke="#222" stroke-width="0.8"/>
<line x1="550.50" y1="450.70" x2="555.00" y2="450.70" stroke="#222" stroke-width="0.8"/>
<line x1="550.50" y1="489.90" x2="553.50" y2="489.90" stroke="#222" stroke-width="0.8"/>
<line x1="553.50" y1="477.00" x2="553.50" y2="503.20" stroke="#222" stroke-width="0.8"/>
<line x1="553.50" y1="477.00" x2="555.00" y2="477.00" stroke="#222" stroke-width="0.8"/>
<line x1="553.50" y1="503.20" x2="555.00" y2="503.20" stroke="#222" stroke-width="0.8"/>
<text x="605.50" y="534.20" font-size="6.72" font-weight="bold" text-anchor="middle" fill="#000">RNA methyltransferase activity</text>
<text x="235.50" y="583.30" font-size="20.5" font-weight="bold" text-anchor="start" fill="#000">h</text>
<defs><filter id="bl" x="-20%" y="-100%" width="140%" height="300%"><feGaussianBlur stdDeviation="0.7 0.55"/></filter><filter id="bl2" x="-20%" y="-100%" width="140%" height="300%"><feGaussianBlur stdDeviation="0.9 0.7"/></filter></defs>
<rect x="278.30" y="626.10" width="159.30" height="34.20" fill="#f6f6f6" stroke="#474747" stroke-width="1.3"/>
<rect x="278.30" y="672.80" width="159.30" height="33.90" fill="#f6f6f6" stroke="#474747" stroke-width="1.3"/>
<rect x="285.00" y="645.15" width="19.50" height="1.50" rx="0.75" fill="#c4c4c4" filter="url(#bl)"/>
<rect x="311.80" y="644.10" width="17.10" height="2.60" rx="1.30" fill="#111" filter="url(#bl)"/>
<rect x="335.30" y="644.70" width="18.30" height="1.60" rx="0.80" fill="#b0b0b0" filter="url(#bl)"/>
<rect x="361.20" y="643.00" width="16.60" height="2.60" rx="1.30" fill="#151515" filter="url(#bl)"/>
<rect x="384.20" y="643.60" width="17.80" height="1.60" rx="0.80" fill="#9a9a9a" filter="url(#bl)"/>
<rect x="411.80" y="642.50" width="19.50" height="2.20" rx="1.10" fill="#444" filter="url(#bl)"/>
<rect x="384.00" y="643.10" width="5.00" height="2.20" rx="1.10" fill="#111" filter="url(#bl)"/>
<rect x="411.60" y="642.20" width="10.40" height="2.40" rx="1.20" fill="#111" filter="url(#bl)"/>
<rect x="282.20" y="688.30" width="24.10" height="4.00" rx="2.00" fill="#050505" filter="url(#bl2)"/>
<rect x="311.80" y="688.40" width="18.00" height="3.40" rx="1.70" fill="#050505" filter="url(#bl2)"/>
<rect x="332.90" y="688.10" width="23.10" height="3.60" rx="1.80" fill="#050505" filter="url(#bl2)"/>
<rect x="359.80" y="687.70" width="20.40" height="3.80" rx="1.90" fill="#050505" filter="url(#bl2)"/>
<rect x="382.40" y="687.70" width="23.00" height="3.80" rx="1.90" fill="#050505" filter="url(#bl2)"/>
<rect x="410.60" y="687.40" width="24.00" height="4.80" rx="2.40" fill="#050505" filter="url(#bl2)"/>
<line x1="437.60" y1="641.70" x2="449.60" y2="641.70" stroke="#222" stroke-width="1.2"/>
<line x1="437.60" y1="694.70" x2="449.60" y2="694.70" stroke="#222" stroke-width="1.2"/>
<text x="449.40" y="644.30" font-size="7.2" font-weight="bold" text-anchor="start" fill="#000">70KD</text>
<text x="449.40" y="697.30" font-size="7.2" font-weight="bold" text-anchor="start" fill="#000">35KD</text>
<text x="273.40" y="649.40" font-size="7.25" font-weight="bold" text-anchor="end" fill="#000">METTL3</text>
<text x="273.40" y="693.00" font-size="7.1" font-weight="bold" text-anchor="end" fill="#000">GAPDH</text>
<text x="294.80" y="668.00" font-size="6.8" font-weight="bold" text-anchor="middle" fill="#000">1.0</text>
<text x="319.20" y="668.00" font-size="6.8" font-weight="bold" text-anchor="middle" fill="#000">2.8</text>
<text x="343.60" y="668.00" font-size="6.8" font-weight="bold" text-anchor="middle" fill="#000">1.2</text>
<text x="369.20" y="668.00" font-size="6.8" font-weight="bold" text-anchor="middle" fill="#000">2.6</text>
<text x="393.80" y="668.00" font-size="6.8" font-weight="bold" text-anchor="middle" fill="#000">1.4</text>
<text x="420.50" y="668.00" font-size="6.8" font-weight="bold" text-anchor="middle" fill="#000">2.9</text>
<text x="294.80" y="716.00" font-size="6.8" font-weight="bold" text-anchor="middle" fill="#000">1.0</text>
<text x="319.20" y="716.00" font-size="6.8" font-weight="bold" text-anchor="middle" fill="#000">0.8</text>
<text x="343.60" y="716.00" font-size="6.8" font-weight="bold" text-anchor="middle" fill="#000">1.0</text>
<text x="369.20" y="716.00" font-size="6.8" font-weight="bold" text-anchor="middle" fill="#000">1.0</text>
<text x="393.80" y="716.00" font-size="6.8" font-weight="bold" text-anchor="middle" fill="#000">1.1</text>
<text x="420.50" y="716.00" font-size="6.8" font-weight="bold" text-anchor="middle" fill="#000">1.2</text>
<text x="296.70" y="623.20" font-size="8.1" text-anchor="start" fill="#000" transform="rotate(-44 296.70 623.20)" stroke="#000" stroke-width="0.22">Concavity_1</text>
<text x="322.90" y="623.20" font-size="8.1" text-anchor="start" fill="#000" transform="rotate(-44 322.90 623.20)" stroke="#000" stroke-width="0.22">Convexity_1</text>
<text x="351.00" y="623.20" font-size="8.1" text-anchor="start" fill="#000" transform="rotate(-44 351.00 623.20)" stroke="#000" stroke-width="0.22">Concavity_2</text>
<text x="377.30" y="623.20" font-size="8.1" text-anchor="start" fill="#000" transform="rotate(-44 377.30 623.20)" stroke="#000" stroke-width="0.22">Convexity_2</text>
<text x="400.40" y="623.20" font-size="8.1" text-anchor="start" fill="#000" transform="rotate(-44 400.40 623.20)" stroke="#000" stroke-width="0.22">Concavity_3</text>
<text x="427.20" y="623.20" font-size="8.1" text-anchor="start" fill="#000" transform="rotate(-44 427.20 623.20)" stroke="#000" stroke-width="0.22">Convexity_3</text>
</svg>
</body></html>
